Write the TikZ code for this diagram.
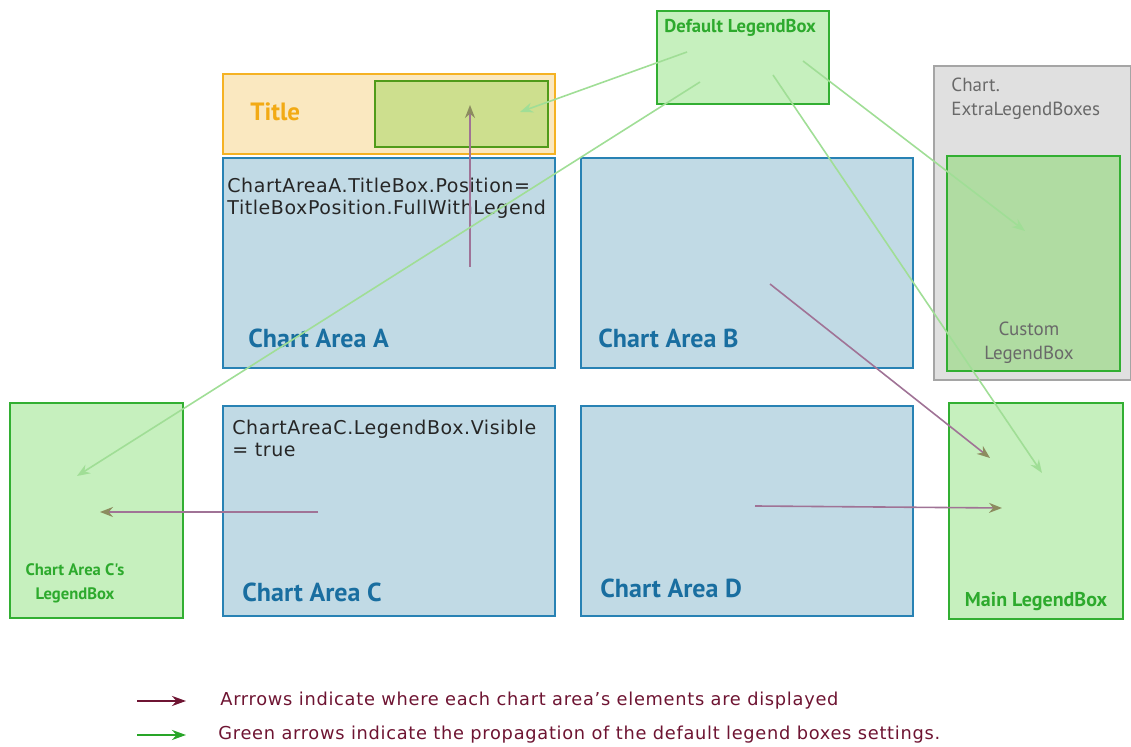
\documentclass[tikz,border=0pt]{standalone}
\usepackage{fontspec}
\setmainfont{DejaVu Sans}
\newfontfamily\headfont{PT Sans}
\newfontfamily\codefont[LetterSpace=3]{DejaVu Sans}
\newfontfamily\keyfont[LetterSpace=4]{DejaVu Sans}
\usepackage{xcolor}
\usepackage{tikz}
\usetikzlibrary{shapes,arrows,arrows.meta,positioning,calc}

\definecolor{areafill}{RGB}{193,218,229}
\definecolor{arealine}{RGB}{40,130,180}
\definecolor{areatext}{RGB}{25,110,160}
\definecolor{titlefill}{RGB}{250,232,192}
\definecolor{titleline}{RGB}{245,178,35}
\definecolor{titletext}{RGB}{242,170,20}
\definecolor{slotfill}{RGB}{205,223,142}
\definecolor{slotline}{RGB}{80,155,25}
\definecolor{legfill}{RGB}{198,240,190}
\definecolor{legline}{RGB}{50,175,50}
\definecolor{legtext}{RGB}{45,170,45}
\definecolor{extrafill}{RGB}{224,224,224}
\definecolor{extraline}{RGB}{165,165,165}
\definecolor{extratext}{RGB}{105,105,105}
\definecolor{customfill}{RGB}{176,220,162}
\definecolor{keymaroon}{RGB}{110,20,50}
\definecolor{keygreen}{RGB}{40,165,40}
\definecolor{placeline}{RGB}{160,115,150}
\definecolor{placehead}{RGB}{140,140,95}
\definecolor{propline}{RGB}{160,222,150}

\begin{document}
\begin{tikzpicture}[
            x=0.5pt, y=-0.5pt,
            box/.style={draw, rectangle, line width=1pt, inner sep=0pt},
            area/.style={box, draw=arealine, fill=areafill, minimum width=166pt, minimum height=105pt},
            legend/.style={box, draw=legline, fill=legfill, minimum width=86.5pt, minimum height=107.5pt},
            areaname/.style={font=\headfont\bfseries\fontsize{13}{13}\selectfont, text=areatext, anchor=base west, inner sep=0pt},
            setting/.style={font=\codefont\fontsize{9.5}{11}\selectfont, align=left, anchor=north west, inner sep=0pt, text=black!85},
            legname/.style={font=\headfont\bfseries\fontsize{9.3}{11}\selectfont, text=legtext, inner sep=0pt, align=center},
            place/.style={draw=placeline, line width=0.8pt, -{Stealth[length=6.5pt,width=5pt,color=placehead]}},
            spread/.style={draw=propline, line width=0.8pt, -{Stealth[length=6.5pt,width=5pt]}},
            keytext/.style={font=\keyfont\fontsize{8.9}{8.9}\selectfont, text=keymaroon, anchor=west, inner sep=0pt}
        ]
            \useasboundingbox (0,0) rectangle (1131,747);

            \node[area, anchor=north west] (areaA) at (222,157) {};
            \node[area, right=12pt of areaA] (areaB) {};
            \node[area, below=18pt of areaA] (areaC) {};
            \node[area, below=18pt of areaB] (areaD) {};

            \node[box, draw=titleline, fill=titlefill, minimum width=166pt, minimum height=40pt, above=1pt of areaA] (title) {};
            \node[box, draw=slotline, fill=slotfill, minimum width=86.5pt, minimum height=33pt, left=3.5pt of title.east] (titleslot) {};
            \node[font=\headfont\bfseries\fontsize{12.5}{13}\selectfont, text=titletext, anchor=base west, inner sep=0pt] (titlename) at (250,121) {Title};

            \node[box, draw=legline, fill=legfill, minimum width=86pt, minimum height=46.5pt, anchor=north west] (deflegend) at (656,10) {};
            \node[legname, anchor=base west] at (664,33) {Default LegendBox};

            \node[box, draw=extraline, fill=extrafill, minimum width=98.5pt, minimum height=157pt, anchor=north west] (extra) at (933,65) {};
            \node[legend, fill=customfill, anchor=north west] (custom) at (946,155) {};
            \node[font=\headfont\fontsize{9.5}{12}\selectfont, text=extratext, align=left, anchor=north west, inner sep=0pt] at (951,78) {Chart.\\ExtraLegendBoxes};
            \node[font=\headfont\fontsize{9.5}{12}\selectfont, text=extratext, align=center, anchor=north] at (1029,315) {Custom\\LegendBox};

            \node[legend, left=19pt of areaC] (clegend) {};
            \node[legname, font=\headfont\bfseries\fontsize{8.3}{12}\selectfont, anchor=north] at (75,563) {Chart Area C's\\LegendBox};

            \node[legend, minimum width=87pt, minimum height=108pt, right=17pt of areaD] (mainlegend) {};
            \node[legname, font=\headfont\bfseries\fontsize{10}{11}\selectfont, anchor=base] at (1036,607) {Main LegendBox};

            \node[setting] at ($(areaA.north west)+(5,21)$) {ChartAreaA.TitleBox.Position=\\TitleBoxPosition.FullWithLegend};
            \node[setting] at ($(areaC.north west)+(10,15)$) {ChartAreaC.LegendBox.Visible\\= true};

            \node[areaname] at ($(areaA.south west)+(26,-21)$) {Chart Area A};
            \node[areaname] at ($(areaB.south west)+(18,-21)$) {Chart Area B};
            \node[areaname] at ($(areaC.south west)+(20,-15)$) {Chart Area C};
            \node[areaname] at ($(areaD.south west)+(20,-19)$) {Chart Area D};

            \coordinate (areaA-src) at (470,267);
            \coordinate (slot-dst) at (470,105);
            \coordinate (areaC-src) at (318,512);
            \coordinate (clegend-dst) at (100,512);
            \coordinate (areaB-src) at (770,284);
            \coordinate (mainB-dst) at (990,458);
            \coordinate (areaD-src) at (755,506);
            \coordinate (mainD-dst) at (1002,508);

            \draw[place] (areaA-src) -- (slot-dst);
            \draw[place] (areaC-src) -- (clegend-dst);
            \draw[place] (areaB-src) -- (mainB-dst);
            \draw[place] (areaD-src) -- (mainD-dst);

            \coordinate (def-1) at (687,52);
            \coordinate (def-2) at (700,82);
            \coordinate (def-3) at (773,75);
            \coordinate (def-4) at (803,61);
            \coordinate (slot-in) at (520,112);
            \coordinate (clegend-in) at (77,476);
            \coordinate (main-in) at (1042,473);
            \coordinate (custom-in) at (1025,231);

            \draw[spread] (def-1) -- (slot-in);
            \draw[spread] (def-2) -- (clegend-in);
            \draw[spread] (def-3) -- (main-in);
            \draw[spread] (def-4) -- (custom-in);

            \coordinate (keyA-from) at (137,701);
            \coordinate (keyA-to) at (186,701);
            \coordinate (keyB-from) at (137,735);
            \coordinate (keyB-to) at (186,735);
            \draw[keymaroon, line width=1.2pt, -{Stealth[length=7pt,width=5pt]}] (keyA-from) -- (keyA-to);
            \draw[keygreen, line width=1.2pt, -{Stealth[length=7pt,width=5pt]}] (keyB-from) -- (keyB-to);
            \node[keytext] at (220,701) {Arrrows indicate where each chart area’s elements are displayed};
            \node[keytext] at (218,735) {Green arrows indicate the propagation of the default legend boxes settings.};
        \end{tikzpicture}
\end{document}
